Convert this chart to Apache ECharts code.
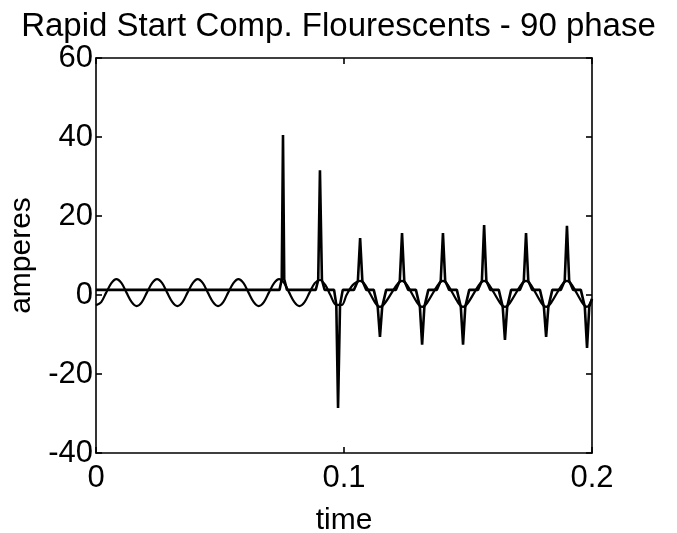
<!DOCTYPE html>
<html>
<head>
<meta charset="utf-8">
<script src="https://cdn.jsdelivr.net/npm/echarts@6/dist/echarts.min.js"></script>
<style>html,body{margin:0;padding:0;background:#fff}#c{width:677px;height:533px}</style>
</head>
<body>
<div id="c"></div>
<script>
var titleText = 'Rapid Start Comp. Flourescents - 90 phase';
var xName = 'time';
var yName = 'amperes';
var xTicks = [0, 0.1, 0.2];
var yTicks = [-40, -20, 0, 20, 40, 60];

// Series A: line-frequency (sine-like) current
var timeA = [0.0000,0.0021,0.0041,0.0062,0.0082,0.0103,0.0123,0.0144,0.0164,0.0185,0.0205,0.0226,0.0246,0.0267,0.0287,0.0308,0.0328,0.0349,0.0369,0.0390,0.0410,0.0431,0.0451,0.0472,0.0492,0.0513,0.0533,0.0554,0.0574,0.0595,0.0615,0.0636,0.0656,0.0677,0.0697,0.0718,0.0738,0.0759,0.0779,0.0800,0.0820,0.0841,0.0861,0.0882,0.0903,0.0925,0.0945,0.0968,0.0992,0.1010,0.1035,0.1065,0.1145,0.1234,0.1315,0.1399,0.1480,0.1565,0.1649,0.1734,0.1815,0.1899,0.1980,0.2000];
var ampA  = [-2.6,-1.8,0.6,3.0,4.0,3.0,0.6,-1.8,-2.8,-1.8,0.6,3.0,4.0,3.0,0.6,-1.8,-2.8,-1.8,0.6,3.0,4.0,3.0,0.6,-1.8,-2.8,-1.8,0.6,3.0,4.0,3.0,0.6,-1.8,-2.8,-1.8,0.6,3.0,4.0,3.0,0.6,-1.8,-2.8,-1.8,0.6,3.0,3.8,2.5,0.0,-2.5,-2.5,0.0,2.5,3.6,-3.0,3.6,-3.0,3.6,-3.0,3.6,-3.0,3.6,-3.0,3.6,-3.0,-1.0];

// Series B: spiky current
var timeB = [0.0000,0.0740,0.0749,0.0754,0.0759,0.0770,0.0886,0.0896,0.0903,0.0911,0.0922,0.0960,0.0969,0.0976,0.0984,0.0995,
  0.1040,0.1056,0.1065,0.1074,0.1090,
  0.1120,0.1136,0.1145,0.1154,0.1170,
  0.1209,0.1225,0.1234,0.1243,0.1259,
  0.1290,0.1306,0.1315,0.1324,0.1340,
  0.1374,0.1390,0.1399,0.1408,0.1424,
  0.1455,0.1471,0.1480,0.1489,0.1505,
  0.1540,0.1556,0.1565,0.1574,0.1590,
  0.1624,0.1640,0.1649,0.1658,0.1674,
  0.1709,0.1725,0.1734,0.1743,0.1759,
  0.1790,0.1806,0.1815,0.1824,0.1840,
  0.1874,0.1890,0.1899,0.1908,0.1924,
  0.1955,0.1971,0.1980,0.1989,0.2000];
var ampB = [1.3,1.3,4.0,40.5,4.0,1.3,1.3,3.8,31.6,3.8,1.3,1.3,-2.5,-28.6,-2.5,1.3,
  1.3,3.6,14.4,3.6,1.3,
  1.3,-3.0,-10.6,-3.0,1.3,
  1.3,3.6,15.7,3.6,1.3,
  1.3,-3.0,-12.6,-3.0,1.3,
  1.3,3.6,15.7,3.6,1.3,
  1.3,-3.0,-12.6,-3.0,1.3,
  1.3,3.6,17.7,3.6,1.3,
  1.3,-3.0,-11.4,-3.0,1.3,
  1.3,3.6,15.7,3.6,1.3,
  1.3,-3.0,-10.6,-3.0,1.3,
  1.3,3.6,17.5,3.6,1.3,
  1.3,-3.0,-13.4,-3.0,-1.0];

function pairs(t, v){ return t.map(function(x,i){ return [x, v[i]]; }); }

var font = '"Liberation Sans", Arial, Helvetica, sans-serif';
var chart = echarts.init(document.getElementById('c'), null, {renderer:'canvas'});
var axisLine = {show:true, onZero:false, lineStyle:{color:'#000', width:1.6}};
var tick = {show:true, inside:true, length:6, lineStyle:{color:'#000', width:1.6}};
chart.setOption({
  animation:false,
  backgroundColor:'#fff',
  title:{text:titleText, left:'center', top:5, textStyle:{fontFamily:font, fontSize:33, fontWeight:'normal', color:'#000'}},
  grid:{left:96, right:85, top:58, bottom:80, containLabel:false, outerBoundsMode:'none'},
  xAxis:[{type:'value', min:xTicks[0], max:xTicks[xTicks.length-1], interval:0.1,
    name:xName, nameLocation:'middle', nameGap:53, nameTextStyle:{fontFamily:font, fontSize:30, color:'#000'},
    axisLine:axisLine, axisTick:tick, splitLine:{show:false},
    axisLabel:{fontFamily:font, fontSize:31, color:'#000', margin:10}},
    {type:'value', position:'top', min:xTicks[0], max:xTicks[xTicks.length-1], interval:0.1,
    axisLine:axisLine, axisTick:tick, splitLine:{show:false}, axisLabel:{show:false}}],
  yAxis:[{type:'value', min:yTicks[0], max:yTicks[yTicks.length-1], interval:20,
    name:yName, nameLocation:'middle', nameGap:59, nameRotate:90, nameTextStyle:{fontFamily:font, fontSize:30, color:'#000'},
    axisLine:axisLine, axisTick:tick, splitLine:{show:false},
    axisLabel:{fontFamily:font, fontSize:31, color:'#000', margin:3}},
    {type:'value', position:'right', min:yTicks[0], max:yTicks[yTicks.length-1], interval:20,
    axisLine:axisLine, axisTick:tick, splitLine:{show:false}, axisLabel:{show:false}}],
  series:[
    {type:'line', data:pairs(timeA, ampA), showSymbol:false, smooth:0.3, lineStyle:{color:'#000', width:2.2}, clip:true},
    {type:'line', data:pairs(timeB, ampB), showSymbol:false, lineStyle:{color:'#000', width:2.6}, clip:true}
  ]
});
</script>
</body>
</html>
